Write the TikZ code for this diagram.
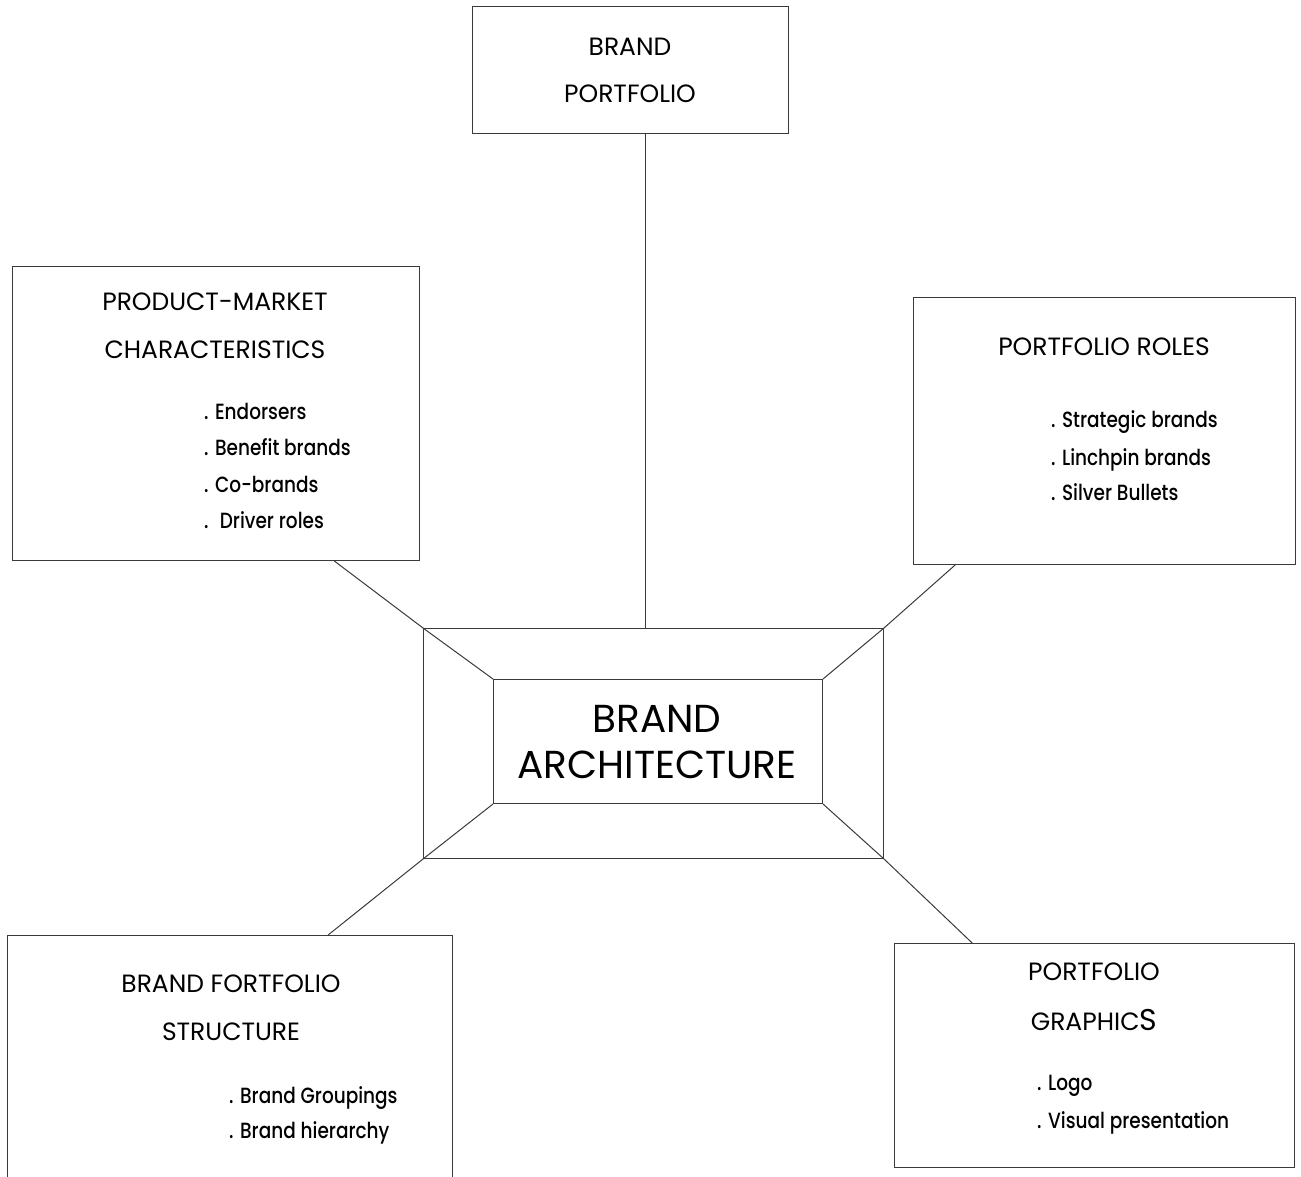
\documentclass[tikz,border=0pt]{standalone}
\usepackage{fontspec}
\setmainfont{Poppins}
\newfontfamily\itemfont{Poppins Medium}[FakeStretch=0.84]
\usetikzlibrary{positioning, calc}
\definecolor{BoxLine}{HTML}{3A3A3A}

\begin{document}
\begin{tikzpicture}[
    x=1pt, y=-1pt,
    box/.style={draw=BoxLine, line width=1pt, anchor=north west, inner sep=0pt},
    head/.style={font=\fontsize{25}{25}\selectfont, anchor=base, inner sep=0pt},
    core/.style={font=\fontsize{39}{39}\selectfont, anchor=base, inner sep=0pt},
    item/.style={font=\itemfont\fontsize{22}{22}\selectfont, anchor=base west, inner sep=0pt},
    link/.style={draw=BoxLine, line width=1pt}
]
\useasboundingbox (0,0) rectangle (1301,1177);
\clip (0,0) rectangle (1301,1177);

\node[box, minimum width=316pt, minimum height=127pt] (portfolio) at (472,6) {};
\node[box, minimum width=407pt, minimum height=294pt] (market) at (12,266) {};
\node[box, minimum width=382pt, minimum height=267pt] (roles) at (913,297) {};
\node[box, minimum width=460pt, minimum height=230pt] (outer) at (423,628) {};
\node[box, minimum width=329pt, minimum height=124pt] (inner) at (493,679) {};
\node[box, minimum width=445pt, minimum height=260pt] (structure) at (7,935) {};
\node[box, minimum width=400pt, minimum height=224pt] (graphics) at (894,943) {};

\node[head] (portfolio1) at (630,56) {BRAND};
\node[head] (portfolio2) at (630,103) {PORTFOLIO};

\node[head] (market1) at (215,310) {PRODUCT-MARKET};
\node[head] (market2) at (215,358) {CHARACTERISTICS};
\node[item] (endorsers) at (204,419) {. Endorsers};
\node[item] (benefit) at (204,455) {. Benefit brands};
\node[item] (cobrands) at (204,492) {. Co-brands};
\node[item] (driver) at (204,528) {.~ Driver roles};

\node[head] (roles1) at (1104,355) {PORTFOLIO ROLES};
\node[item] (strategic) at (1051,427) {. Strategic brands};
\node[item] (linchpin) at (1051,465) {. Linchpin brands};
\node[item] (silver) at (1051,500) {. Silver Bullets};

\node[core] (core1) at (657,732) {BRAND};
\node[core] (core2) at (657,778) {ARCHITECTURE};

\node[head] (structure1) at (231,992) {BRAND FORTFOLIO};
\node[head] (structure2) at (231,1040) {STRUCTURE};
\node[item] (groupings) at (229,1103) {. Brand Groupings};
\node[item] (hierarchy) at (229,1138) {. Brand hierarchy};

\node[head] (graphics1) at (1094,980) {PORTFOLIO};
\node[head] (graphics2) at (1094,1030) {GRAPHIC{\fontsize{30}{30}\selectfont S}};
\node[item] (logo) at (1037,1090) {. Logo};
\node[item] (visual) at (1037,1128) {. Visual presentation};

\coordinate (topfoot) at ($(portfolio.south west)!0.547!(portfolio.south east)$);
\draw[link] (topfoot) -- (topfoot |- outer.north);
\draw[link] ($(market.south west)!0.79!(market.south east)$) -- (outer.north west);
\draw[link] ($(roles.south west)!0.11!(roles.south east)$) -- (outer.north east);
\draw[link] ($(structure.north west)!0.72!(structure.north east)$) -- (outer.south west);
\draw[link] ($(graphics.north west)!0.195!(graphics.north east)$) -- (outer.south east);

\draw[link] (outer.north west) -- (inner.north west);
\draw[link] (outer.north east) -- (inner.north east);
\draw[link] (outer.south west) -- (inner.south west);
\draw[link] (outer.south east) -- (inner.south east);
\end{tikzpicture}
\end{document}
